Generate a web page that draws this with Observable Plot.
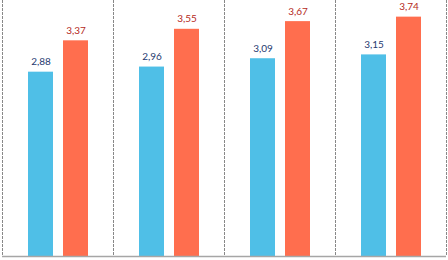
<!DOCTYPE html>
<html>
<head>
<meta charset="utf-8">
<script src="https://cdn.jsdelivr.net/npm/d3@7"></script>
<script src="https://cdn.jsdelivr.net/npm/@observablehq/plot@0.6"></script>
<style>
  html, body { margin: 0; padding: 0; background: #fff; }
  #chart svg { display: block; }
</style>
</head>
<body>
<div id="chart"></div>
<script>
const groups = ["G1", "G2", "G3", "G4"];
const series = ["A", "B"];
const valuesA = [2.88, 2.96, 3.09, 3.15];
const valuesB = [3.37, 3.55, 3.67, 3.74];
const barColors = ["#4fbfe7", "#ff6e4e"];
const labelColors = ["#1f3b70", "#b52a1c"];

const data = [];
groups.forEach((g, i) => {
  data.push({group: g, series: series[0], value: valuesA[i]});
  data.push({group: g, series: series[1], value: valuesB[i]});
});
const fmt = v => v.toFixed(2).replace(".", ",");

const chart = Plot.plot({
  width: 448,
  height: 260,
  marginTop: 0,
  marginBottom: 4,
  marginLeft: 1,
  marginRight: 1,
  style: {fontFamily: "Lato, 'Open Sans', sans-serif"},
  fx: {domain: groups, padding: 0, axis: null},
  x: {domain: series, paddingInner: 0.3, paddingOuter: 0.7, axis: null},
  y: {domain: [0, 4], axis: null},
  color: {domain: series, range: barColors},
  marks: [
    Plot.frame({anchor: "left", stroke: "#888", strokeDasharray: "2,2"}),
    Plot.frame({anchor: "right", stroke: "#888", strokeDasharray: "2,2"}),
    Plot.barY(data, {fx: "group", x: "series", y: "value", fill: "series"}),
    Plot.text(data, {
      fx: "group", x: "series", y: "value",
      text: d => fmt(d.value),
      fill: d => labelColors[series.indexOf(d.series)],
      lineAnchor: "bottom", dy: -7, fontSize: 10
    }),
    Plot.ruleY([0], {stroke: "#a6a6a6", strokeWidth: 1.5})
  ]
});
document.getElementById("chart").appendChild(chart);
</script>
</body>
</html>
